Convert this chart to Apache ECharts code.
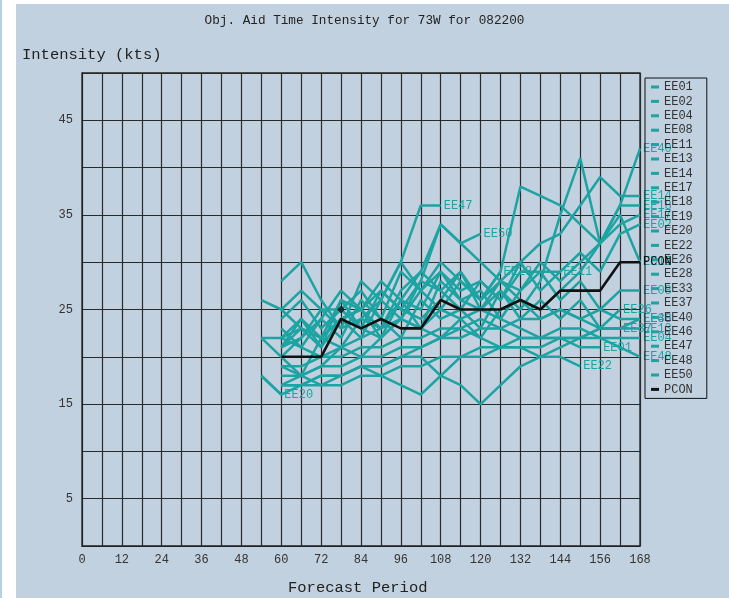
<!DOCTYPE html>
<html>
<head>
<meta charset="utf-8">
<script src="https://cdn.jsdelivr.net/npm/echarts@6/dist/echarts.min.js"></script>
<style>
html,body{margin:0;padding:0;background:#fff;}
#chart{width:729px;height:598px;}
</style>
</head>
<body>
<div id="chart"></div>
<script>
// Forecast hours
const hours = [54,60,66,72,78,84,90,96,102,108,114,120,126,132,138,144,150,156,162,168];
// Intensity (kts) per aid, null = no forecast
const EE01 = [null,22,21,20,21,22,23,24,23,22,24,25,24,23,22,22,21,21,null,null];
const EE02 = [22,22,24,21,26,25,27,25,28,27,29,26,28,30,27,29,31,29,33,34];
const EE04 = [null,19,19,20,20,21,21,22,22,23,23,24,23,22,22,23,23,22,22,22];
const EE08 = [26,25,23,22,24,25,22,26,23,28,26,27,24,27,29,26,28,25,27,27];
const EE11 = [null,21,22,24,27,25,28,26,29,27,25,28,26,29,29,29,null,null,null,null];
const EE13 = [null,18,18,19,19,20,20,21,21,22,22,23,23,24,24,25,24,23,23,23];
const EE14 = [null,20,18,22,21,24,23,26,25,29,27,28,26,30,32,33,36,39,37,37];
const EE17 = [null,17,18,19,21,20,22,24,28,34,32,30,28,27,30,28,30,32,34,35];
const EE18 = [null,24,26,23,25,27,24,29,27,30,28,26,29,38,37,36,34,32,36,36];
const EE19 = [null,21,24,22,26,23,27,25,24,26,29,25,27,25,28,35,41,32,35,30];
const EE20 = [18,16,null,null,null,null,null,null,null,null,null,null,null,null,null,null,null,null,null,null];
const EE22 = [null,17,17,18,18,19,19,20,21,22,23,22,21,21,20,20,19,null,null,null];
const EE26 = [null,23,21,24,22,26,24,22,26,24,25,23,27,24,26,24,26,23,25,null];
const EE28 = [null,25,27,25,23,28,26,30,27,25,28,26,29,null,null,null,null,null,null,null];
const EE33 = [22,20,22,25,25,23,22,24,23,25,24,22,25,26,24,25,24,25,24,24];
const EE37 = [null,19,18,17,18,19,18,17,16,18,20,21,21,22,22,22,22,23,23,null];
const EE40 = [null,28,30,26,23,24,26,24,27,29,26,25,28,26,25,27,29,32,36,42];
const EE46 = [18,16,17,17,17,18,18,19,19,20,20,20,21,21,21,22,22,23,23,24];
const EE47 = [null,22,23,21,24,22,26,30,36,36,null,null,null,null,null,null,null,null,null,null];
const EE48 = [null,17,17,18,18,19,19,20,20,18,17,15,17,19,20,21,22,22,21,20];
const EE50 = [null,21,23,22,24,25,23,27,29,34,32,33,null,null,null,null,null,null,null,null];
const PCON = [null,20,20,20,24,23,24,23,23,26,25,25,25,26,25,27,27,27,30,30];
// single marked point
const markHour = [78];
const markValue = [25];

const aidNames = ['EE01','EE02','EE04','EE08','EE11','EE13','EE14','EE17','EE18','EE19','EE20','EE22','EE26','EE28','EE33','EE37','EE40','EE46','EE47','EE48','EE50'];
const aidValues = [EE01,EE02,EE04,EE08,EE11,EE13,EE14,EE17,EE18,EE19,EE20,EE22,EE26,EE28,EE33,EE37,EE40,EE46,EE47,EE48,EE50];

const xTicks = [0,12,24,36,48,60,72,84,96,108,120,132,144,156,168];
const yTicks = [5,15,25,35,45];

const FONT = 'Liberation Mono';
const TEAL = '#1ea3a3';

function pairs(vals){ return hours.map((h,i)=>[h,vals[i]]).filter(p=>p[1]!=null); }

const series = aidNames.map((n,k)=>({
  name:n, type:'line', data:pairs(aidValues[k]), showSymbol:false, symbol:'none',
  lineStyle:{color:TEAL,width:2.5}, itemStyle:{color:TEAL},
  endLabel:{show:true, formatter:'{a}', color:TEAL, fontFamily:FONT, fontSize:12, distance:3},
  emphasis:{disabled:true}, silent:true, z:3
}));
series.push({
  name:'PCON', type:'line', data:pairs(PCON), showSymbol:false, symbol:'none',
  lineStyle:{color:'#111',width:2.6}, itemStyle:{color:'#111'},
  endLabel:{show:true, formatter:'{a}', color:'#111', fontFamily:FONT, fontSize:12, distance:3},
  emphasis:{disabled:true}, silent:true, z:5
});
series.push({
  type:'scatter', data:markHour.map((h,i)=>[h,markValue[i]]), symbol:'diamond', symbolSize:8,
  itemStyle:{color:'#111'}, silent:true, z:6
});

const chart = echarts.init(document.getElementById('chart'), null, {renderer:'canvas'});
chart.setOption({
  animation:false,
  backgroundColor:'#fff',
  graphic:[
    {type:'rect', shape:{x:16,y:4,width:713,height:594}, style:{fill:'#c2d1df'}, z:-10, silent:true},
    {type:'rect', shape:{x:0,y:0,width:2,height:598}, style:{fill:'#b5d2e4'}, z:-10, silent:true},
    {type:'text', left:22, top:47, style:{text:'Intensity (kts)', font:'15.5px "Liberation Mono"', fill:'#222'}},
    {type:'text', left:288, top:580, style:{text:'Forecast Period', font:'15.5px "Liberation Mono"', fill:'#222'}}
  ],
  title:{text:'Obj. Aid Time Intensity for 73W for 082200', left:'center', top:9,
    textStyle:{fontFamily:FONT, fontSize:12.7, fontWeight:'normal', color:'#222'}},
  legend:{
    orient:'vertical', left:645, top:78, data:aidNames.concat(['PCON']),
    icon:'rect', itemWidth:8, itemHeight:3, itemGap:2.4,
    padding:[3,14,3,6], borderColor:'#111', borderWidth:1,
    textStyle:{fontFamily:FONT, fontSize:12, lineHeight:12, color:'#333'},
    selectedMode:false
  },
  grid:{left:82, right:89, top:73, bottom:52, show:true, borderColor:'#222', borderWidth:1.3, backgroundColor:'transparent'},
  xAxis:{type:'value', min:0, max:168, interval:6,
    axisLine:{show:true,lineStyle:{color:'#222'}}, axisTick:{show:false},
    splitLine:{show:true,lineStyle:{color:'#2a2a2a',width:1.2}},
    axisLabel:{fontFamily:FONT, fontSize:12, color:'#333', margin:8,
      formatter:v=>xTicks.indexOf(v)>=0?String(v):''}},
  yAxis:{type:'value', min:0, max:50, interval:5,
    axisLine:{show:true,lineStyle:{color:'#222'}}, axisTick:{show:false},
    splitLine:{show:true,lineStyle:{color:'#2a2a2a',width:1.2}},
    axisLabel:{fontFamily:FONT, fontSize:12, color:'#333', margin:9,
      formatter:v=>yTicks.indexOf(v)>=0?String(v):''}},
  series:series
});
</script>
</body>
</html>
